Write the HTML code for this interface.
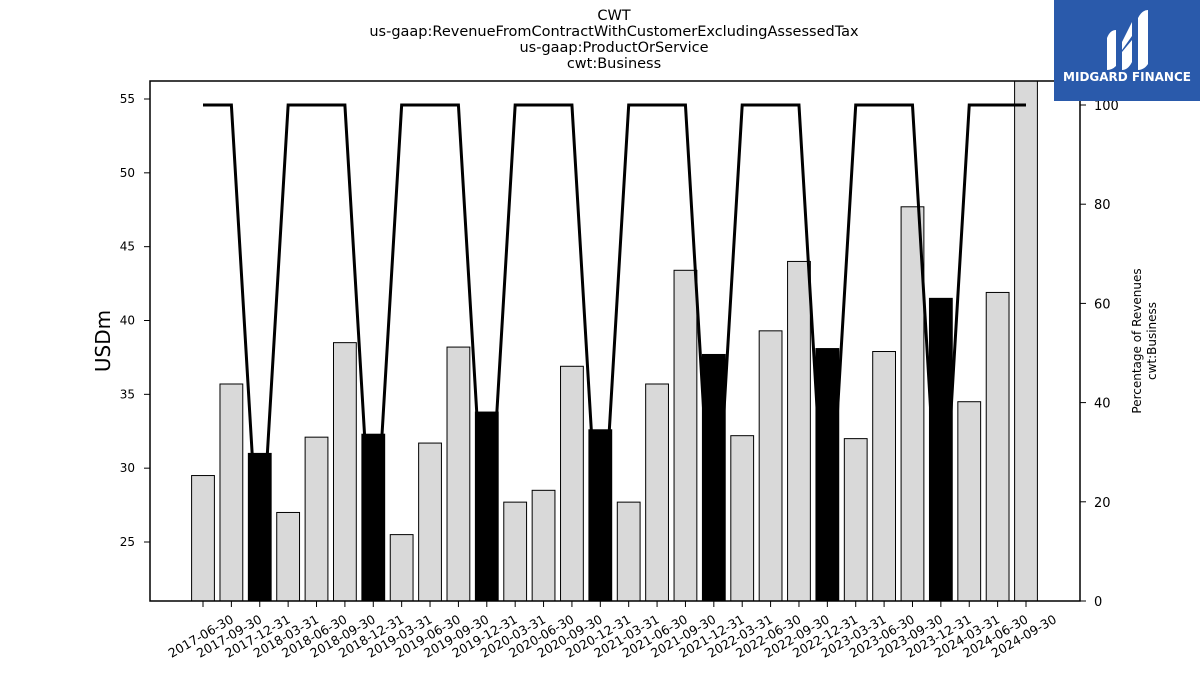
<!DOCTYPE html>
<html><head><meta charset="utf-8"><style>
body{margin:0;background:#fff;font-family:"Liberation Sans","DejaVu Sans",sans-serif;}
</style></head><body>
<svg width="1200" height="675" xmlns="http://www.w3.org/2000/svg" font-family="'DejaVu Sans','Liberation Sans',sans-serif">
<g font-size="14.5" text-anchor="middle">
<text x="614" y="20">CWT</text>
<text x="614" y="36">us-gaap:RevenueFromContractWithCustomerExcludingAssessedTax</text>
<text x="614" y="52">us-gaap:ProductOrService</text>
<text x="614" y="68">cwt:Business</text>
</g>
<g id="bars"></g>
<g id="line"></g>
<rect x="150" y="81" width="930" height="520" fill="none" stroke="#000" stroke-width="1.5"/>
<g id="yl" font-size="12"></g>
<g id="yr" font-size="13"></g>
<g id="xa" font-size="12.5"></g>
<text transform="translate(110,341) rotate(-90)" font-size="20" text-anchor="middle">USDm</text>
<g font-size="12" text-anchor="middle">
<text transform="translate(1141,341) rotate(-90)">Percentage of Revenues</text>
<text transform="translate(1156,341) rotate(-90)">cwt:Business</text>
</g>
<g>
<rect x="1054" y="0" width="146" height="101" fill="#2a5aab"/>
<path d="M1107 70 L1107 38 Q1110 30 1116 30 L1116 66 Q1112 70 1107 70Z M1122 42 L1132 22 L1132 36 L1122 50Z M1122 70 L1122 52 L1132 40 L1132 62 Q1128 70 1122 70Z M1138 70 L1138 18 Q1142 10 1148 10 L1148 64 Q1144 70 1138 70Z" fill="#fff"/>
<text x="1127" y="81" fill="#fff" font-size="12" font-weight="bold" text-anchor="middle">MIDGARD FINANCE</text>
</g>
</svg>
<script>
const categories=["2017-06-30","2017-09-30","2017-12-31","2018-03-31","2018-06-30","2018-09-30","2018-12-31","2019-03-31","2019-06-30","2019-09-30","2019-12-31","2020-03-31","2020-06-30","2020-09-30","2020-12-31","2021-03-31","2021-06-30","2021-09-30","2021-12-31","2022-03-31","2022-06-30","2022-09-30","2022-12-31","2023-03-31","2023-06-30","2023-09-30","2023-12-31","2024-03-31","2024-06-30","2024-09-30"];
const revenues=[29.5,35.7,31.0,27.0,32.1,38.5,32.3,25.5,31.7,38.2,33.8,27.7,28.5,36.9,32.6,27.7,35.7,43.4,37.7,32.2,39.3,44.0,38.1,32.0,37.9,47.7,41.5,34.5,41.9,57.0];
const percentages=[100,100,4,100,100,100,4,100,100,100,4,100,100,100,4,100,100,100,4,100,100,100,4,100,100,100,4,100,100,100];
const leftTicks=[25,30,35,40,45,50,55];
const rightTicks=[0,20,40,60,80,100];
const NS="http://www.w3.org/2000/svg";
const yL=v=>542-(v-25)*(443/30);
const yR=v=>601-v*4.96;
const xP=i=>203+i*(823/29);
function mk(t,a,p){const e=document.createElementNS(NS,t);for(const k in a)e.setAttribute(k,a[k]);p.appendChild(e);return e;}
const isQ4=c=>c.endsWith("12-31");
const bg=document.getElementById("bars");
revenues.forEach((v,i)=>{const top=Math.max(yL(v),81);
const r=mk("rect",{x:xP(i)-11.4,y:top,width:22.8,height:601-top,fill:isQ4(categories[i])?"#000":"#d9d9d9",stroke:"#000","stroke-width":1},bg);

});
const pts=percentages.map((v,i)=>xP(i)+","+yR(v)).join(" ");
const pl=mk("polyline",{points:pts,fill:"none",stroke:"#000","stroke-width":3},document.getElementById("line"));


const yl=document.getElementById("yl");
leftTicks.forEach(t=>{const y=yL(t);
mk("line",{x1:144,x2:150,y1:y,y2:y,stroke:"#000"},yl);
const tx=mk("text",{x:135,y:y+4,"text-anchor":"end"},yl);tx.textContent=t;

});
const yr=document.getElementById("yr");
rightTicks.forEach(t=>{const y=yR(t);
mk("line",{x1:1080,x2:1086,y1:y,y2:y,stroke:"#000"},yr);
const tx=mk("text",{x:1094,y:y+5},yr);tx.textContent=t;

});
const xa=document.getElementById("xa");
categories.forEach((c,i)=>{const x=xP(i);
mk("line",{x1:x,x2:x,y1:601,y2:607,stroke:"#000"},xa);
const tx=mk("text",{transform:`translate(${x},${640}) rotate(-30)`,"text-anchor":"middle"},xa);tx.textContent=c;

});
</script>
</body></html>
